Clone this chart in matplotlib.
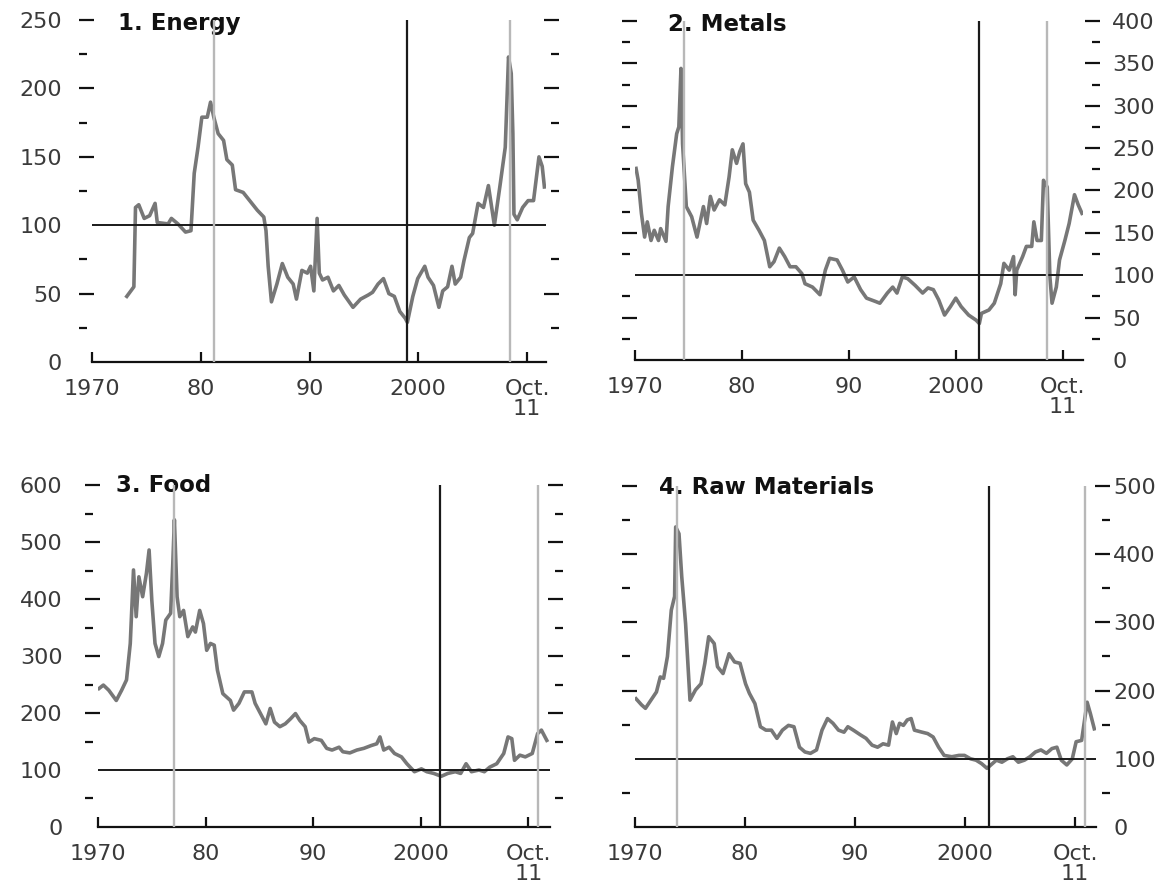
import matplotlib
matplotlib.use("Agg")
import matplotlib.pyplot as plt
from matplotlib.ticker import MultipleLocator, FixedLocator

plt.rcParams['font.family'] = ['DejaVu Sans']

# ---------------- data ----------------
energy_years = [1973.2, 1973.85, 1974.0, 1974.3, 1974.8, 1975.3, 1975.8, 1976.0, 1977.0, 1977.3,
                1977.9, 1978.6, 1979.1, 1979.4, 1979.75, 1980.1, 1980.6, 1980.9, 1981.2, 1981.6,
                1982.1, 1982.4, 1982.9, 1983.2, 1983.9, 1984.5, 1985.2, 1985.8, 1986.0, 1986.2,
                1986.5, 1987.0, 1987.5, 1988.0, 1988.5, 1988.8, 1989.3, 1989.8, 1990.1, 1990.4,
                1990.7, 1990.9, 1991.2, 1991.7, 1992.2, 1992.7, 1993.2, 1994.0, 1994.7, 1995.4,
                1995.8, 1996.3, 1996.8, 1997.3, 1997.8, 1998.3, 1998.8, 1999.0, 1999.5, 1999.95,
                2000.6, 2000.9, 2001.4, 2001.9, 2002.25, 2002.7, 2003.1, 2003.4, 2003.9, 2004.2,
                2004.7, 2005.0, 2005.5, 2006.0, 2006.45, 2007.0, 2007.5, 2008.0, 2008.3, 2008.55,
                2008.7, 2008.8, 2009.1, 2009.6, 2010.1, 2010.6, 2011.1, 2011.4, 2011.6]
energy_values = [48, 55, 113, 115, 105, 107, 116, 102, 101, 105,
                 101, 95, 96, 138, 157, 179, 179, 190, 179, 167,
                 162, 148, 144, 126, 124, 118, 111, 106, 96, 70,
                 44, 57, 72, 62, 57, 46, 67, 65, 70, 52,
                 105, 65, 60, 62, 52, 56, 49, 40, 46, 49,
                 51, 57, 61, 50, 48, 37, 32, 29, 48, 61,
                 70, 62, 56, 40, 52, 55, 70, 57, 62, 74,
                 91, 94, 116, 113, 129, 100, 128, 157, 223, 211,
                 167, 108, 104, 113, 118, 118, 150, 143, 128]

metals_years = [1970.1, 1970.3, 1970.6, 1970.9, 1971.15, 1971.5, 1971.8, 1972.2, 1972.4, 1972.9,
                1973.1, 1973.5, 1973.9, 1974.1, 1974.3, 1974.45, 1974.8, 1975.3, 1975.8, 1976.4,
                1976.7, 1977.05, 1977.4, 1977.9, 1978.4, 1978.8, 1979.1, 1979.5, 1979.8, 1980.1,
                1980.35, 1980.7, 1981.05, 1981.6, 1982.1, 1982.6, 1983.0, 1983.5, 1984.0, 1984.5,
                1985.05, 1985.6, 1985.9, 1986.6, 1987.3, 1987.8, 1988.2, 1988.9, 1989.4, 1989.9,
                1990.5, 1991.1, 1991.65, 1992.5, 1992.9, 1993.6, 1994.1, 1994.5, 1995.0, 1995.5,
                1996.2, 1996.9, 1997.4, 1997.9, 1998.4, 1998.95, 1999.5, 2000.0, 2000.5, 2001.2,
                2001.9, 2002.2, 2002.4, 2003.1, 2003.6, 2004.2, 2004.5, 2005.0, 2005.4, 2005.55,
                2005.7, 2006.25, 2006.6, 2007.1, 2007.3, 2007.6, 2008.0, 2008.2, 2008.55, 2008.8,
                2009.0, 2009.4, 2009.7, 2010.2, 2010.6, 2011.1, 2011.45, 2011.8]
metals_values = [226, 212, 173, 145, 163, 141, 153, 141, 155, 140,
                 181, 228, 267, 275, 344, 255, 181, 169, 145, 181,
                 161, 193, 177, 189, 183, 216, 248, 232, 246, 255,
                 208, 198, 165, 153, 141, 110, 116, 132, 122, 110,
                 110, 102, 90, 86, 77, 106, 120, 118, 106, 92,
                 98, 83, 73, 69, 67, 79, 86, 79, 98, 96,
                 88, 79, 85, 83, 71, 53, 63, 73, 63, 53,
                 47, 43, 55, 59, 67, 90, 114, 106, 122, 77,
                 106, 122, 134, 134, 163, 141, 141, 212, 204, 98,
                 67, 86, 118, 141, 161, 195, 183, 173]

food_years = [1970.1, 1970.5, 1971.0, 1971.7, 1972.2, 1972.65, 1973.0, 1973.3, 1973.55, 1973.8,
              1974.15, 1974.5, 1974.75, 1975.0, 1975.3, 1975.65, 1976.0, 1976.3, 1976.75, 1976.95,
              1977.1, 1977.35, 1977.6, 1977.95, 1978.35, 1978.8, 1979.05, 1979.45, 1979.8, 1980.1,
              1980.45, 1980.8, 1981.1, 1981.6, 1982.3, 1982.6, 1983.1, 1983.6, 1984.3, 1984.6,
              1985.1, 1985.6, 1986.0, 1986.4, 1986.9, 1987.4, 1987.9, 1988.35, 1988.75, 1989.25,
              1989.6, 1990.1, 1990.75, 1991.25, 1991.75, 1992.4, 1992.75, 1993.4, 1994.05, 1994.7,
              1995.4, 1995.9, 1996.2, 1996.55, 1997.05, 1997.55, 1998.2, 1998.7, 1999.4, 2000.05,
              2000.55, 2001.2, 2001.9, 2002.5, 2003.2, 2003.7, 2004.2, 2004.7, 2005.4, 2005.9,
              2006.4, 2007.05, 2007.7, 2008.1, 2008.45, 2008.7, 2009.2, 2009.7, 2010.35, 2010.85,
              2011.2, 2011.7]
food_values = [243, 249, 240, 222, 240, 258, 322, 451, 369, 439,
               404, 445, 486, 398, 322, 299, 322, 363, 375, 462,
               539, 404, 369, 380, 334, 351, 342, 380, 357, 310,
               322, 319, 275, 234, 222, 205, 217, 237, 237, 217,
               199, 181, 208, 184, 176, 181, 190, 199, 187, 176,
               149, 155, 152, 138, 135, 140, 132, 130, 135, 138,
               143, 146, 158, 135, 140, 129, 123, 111, 97, 102,
               97, 94, 89, 94, 97, 94, 111, 97, 100, 97,
               105, 111, 129, 158, 155, 117, 126, 123, 129, 164,
               170, 152]

raw_years = [1970.1, 1970.6, 1970.95, 1971.45, 1971.95, 1972.3, 1972.6, 1972.95, 1973.3, 1973.6,
             1973.7, 1974.0, 1974.25, 1974.6, 1975.0, 1975.5, 1976.0, 1976.35, 1976.7, 1977.2,
             1977.5, 1978.0, 1978.55, 1979.05, 1979.55, 1980.05, 1980.4, 1980.9, 1981.4, 1981.9,
             1982.4, 1982.9, 1983.4, 1983.95, 1984.45, 1984.95, 1985.45, 1985.95, 1986.5, 1987.0,
             1987.5, 1988.0, 1988.5, 1989.0, 1989.35, 1989.85, 1990.5, 1991.0, 1991.55, 1992.05,
             1992.55, 1993.05, 1993.4, 1993.75, 1994.05, 1994.4, 1994.75, 1995.1, 1995.4, 1996.1,
             1996.6, 1997.1, 1997.6, 1998.1, 1998.8, 1999.45, 1999.95, 2000.5, 2001.0, 2001.5,
             2002.0, 2002.35, 2002.85, 2003.35, 2003.85, 2004.35, 2004.85, 2005.4, 2005.9, 2006.4,
             2006.9, 2007.4, 2007.9, 2008.35, 2008.75, 2009.25, 2009.75, 2010.1, 2010.6, 2010.95,
             2011.1, 2011.4, 2011.75]
raw_values = [188, 179, 174, 186, 198, 220, 218, 250, 318, 338,
              440, 430, 367, 298, 186, 201, 210, 240, 279, 269,
              235, 225, 254, 242, 240, 210, 196, 181, 147, 142,
              142, 130, 142, 149, 147, 117, 110, 108, 113, 142,
              159, 152, 142, 139, 147, 142, 135, 130, 120, 117,
              122, 120, 154, 137, 152, 149, 157, 159, 142, 139,
              137, 132, 117, 105, 103, 105, 105, 100, 98, 93,
              86, 91, 98, 95, 100, 103, 95, 98, 103, 110,
              113, 108, 115, 117, 98, 91, 100, 125, 127, 166,
              183, 166, 144]

titles = ["1. Energy", "2. Metals", "3. Food", "4. Raw Materials"]
x_tick_years = [1970, 1980, 1990, 2000, 2010]
x_tick_labels = ["1970", "80", "90", "2000", "Oct.\n11"]
y_max = [250, 400, 600, 500]
y_step = [50, 50, 100, 100]
black_line_years = [1998.95, 2002.2, 2001.8, 2002.2]
gray_line_years = [[1981.2, 2008.4], [1974.55, 2008.5], [1977.1, 2010.9], [1973.8, 2010.9]]

# ---------------- layout / style ----------------
fig = plt.figure(figsize=(11.72, 8.88), dpi=100)

layout = [
    dict(rect=[0.0785, 0.5923, 0.3874, 0.3851], xmax=2011.75, side='left', pad=12.0,
         off_l=9.6, off_r=9.4, tx=0.057, ty=0.99),
    dict(rect=[0.5418, 0.5946, 0.3823, 0.3818], xmax=2011.9, side='right', pad=8.5,
         off_l=9.7, off_r=12.5, tx=0.074, ty=0.99),
    dict(rect=[0.0836, 0.0687, 0.3857, 0.3851], xmax=2012.0, side='left', pad=16.0,
         off_l=9.6, off_r=9.4, tx=0.040, ty=1.0),
    dict(rect=[0.5418, 0.0687, 0.3933, 0.3840], xmax=2011.9, side='right', pad=2.5,
         off_l=9.7, off_r=10.0, tx=0.052, ty=0.995),
]

series = [(energy_years, energy_values), (metals_years, metals_values),
          (food_years, food_values), (raw_years, raw_values)]

label_color = '#3a3a3a'
line_color = '#777777'

for i in range(4):
    L = layout[i]
    ax = fig.add_axes(L['rect'])
    xs, ys = series[i]
    ax.plot(xs, ys, color=line_color, lw=2.6, solid_joinstyle='round', zorder=2)

    ax.axhline(100, color='#1a1a1a', lw=1.4, zorder=3)
    ax.axvline(black_line_years[i], color='#1a1a1a', lw=1.6, zorder=3)
    for g in gray_line_years[i]:
        ax.axvline(g, color='#b8b8b8', lw=1.7, zorder=3)

    ax.set_xlim(1970, L['xmax'])
    ax.set_ylim(0, y_max[i])

    # spines
    ax.spines['top'].set_visible(False)
    ax.spines['left'].set_visible(False)
    ax.spines['right'].set_visible(False)
    ax.spines['left'].set_position(('outward', L['off_l']))
    ax.spines['right'].set_position(('outward', L['off_r']))
    ax.spines['bottom'].set_linewidth(1.6)
    ax.spines['bottom'].set_color('#111111')

    # x axis
    ax.xaxis.set_major_locator(FixedLocator(x_tick_years))
    ax.set_xticklabels(x_tick_labels)
    ax.tick_params(axis='x', which='major', direction='in', length=7.5, width=1.6,
                   color='#111111', labelsize=16, labelcolor=label_color, pad=12,
                   top=False, bottom=True)
    for lab in ax.get_xticklabels():
        lab.set_linespacing(1.0)

    # y axis
    ax.yaxis.set_major_locator(MultipleLocator(y_step[i]))
    ax.yaxis.set_minor_locator(MultipleLocator(y_step[i] / 2))
    left_lab = L['side'] == 'left'
    ax.tick_params(axis='y', which='major', direction='in', length=10.5, width=1.6,
                   color='#111111', labelsize=16, labelcolor=label_color, pad=L['pad'],
                   left=True, right=True, labelleft=left_lab, labelright=not left_lab)
    ax.tick_params(axis='y', which='minor', direction='in', length=6.0, width=1.6,
                   color='#111111', left=True, right=True)

    ax.text(L['tx'], L['ty'], titles[i], transform=ax.transAxes, fontsize=16.5,
            fontweight='bold', color='#111111', ha='left', va='center', zorder=1)

    # no tick marks at 0 and 100 (labels kept)
    locs = ax.yaxis.get_majorticklocs()
    for loc, t in zip(locs, ax.yaxis.get_major_ticks()):
        if abs(loc) < 1e-9 or abs(loc - 100) < 1e-9:
            t.tick1line.set_visible(False)
            t.tick2line.set_visible(False)

fig.savefig("out.png", dpi=100)
